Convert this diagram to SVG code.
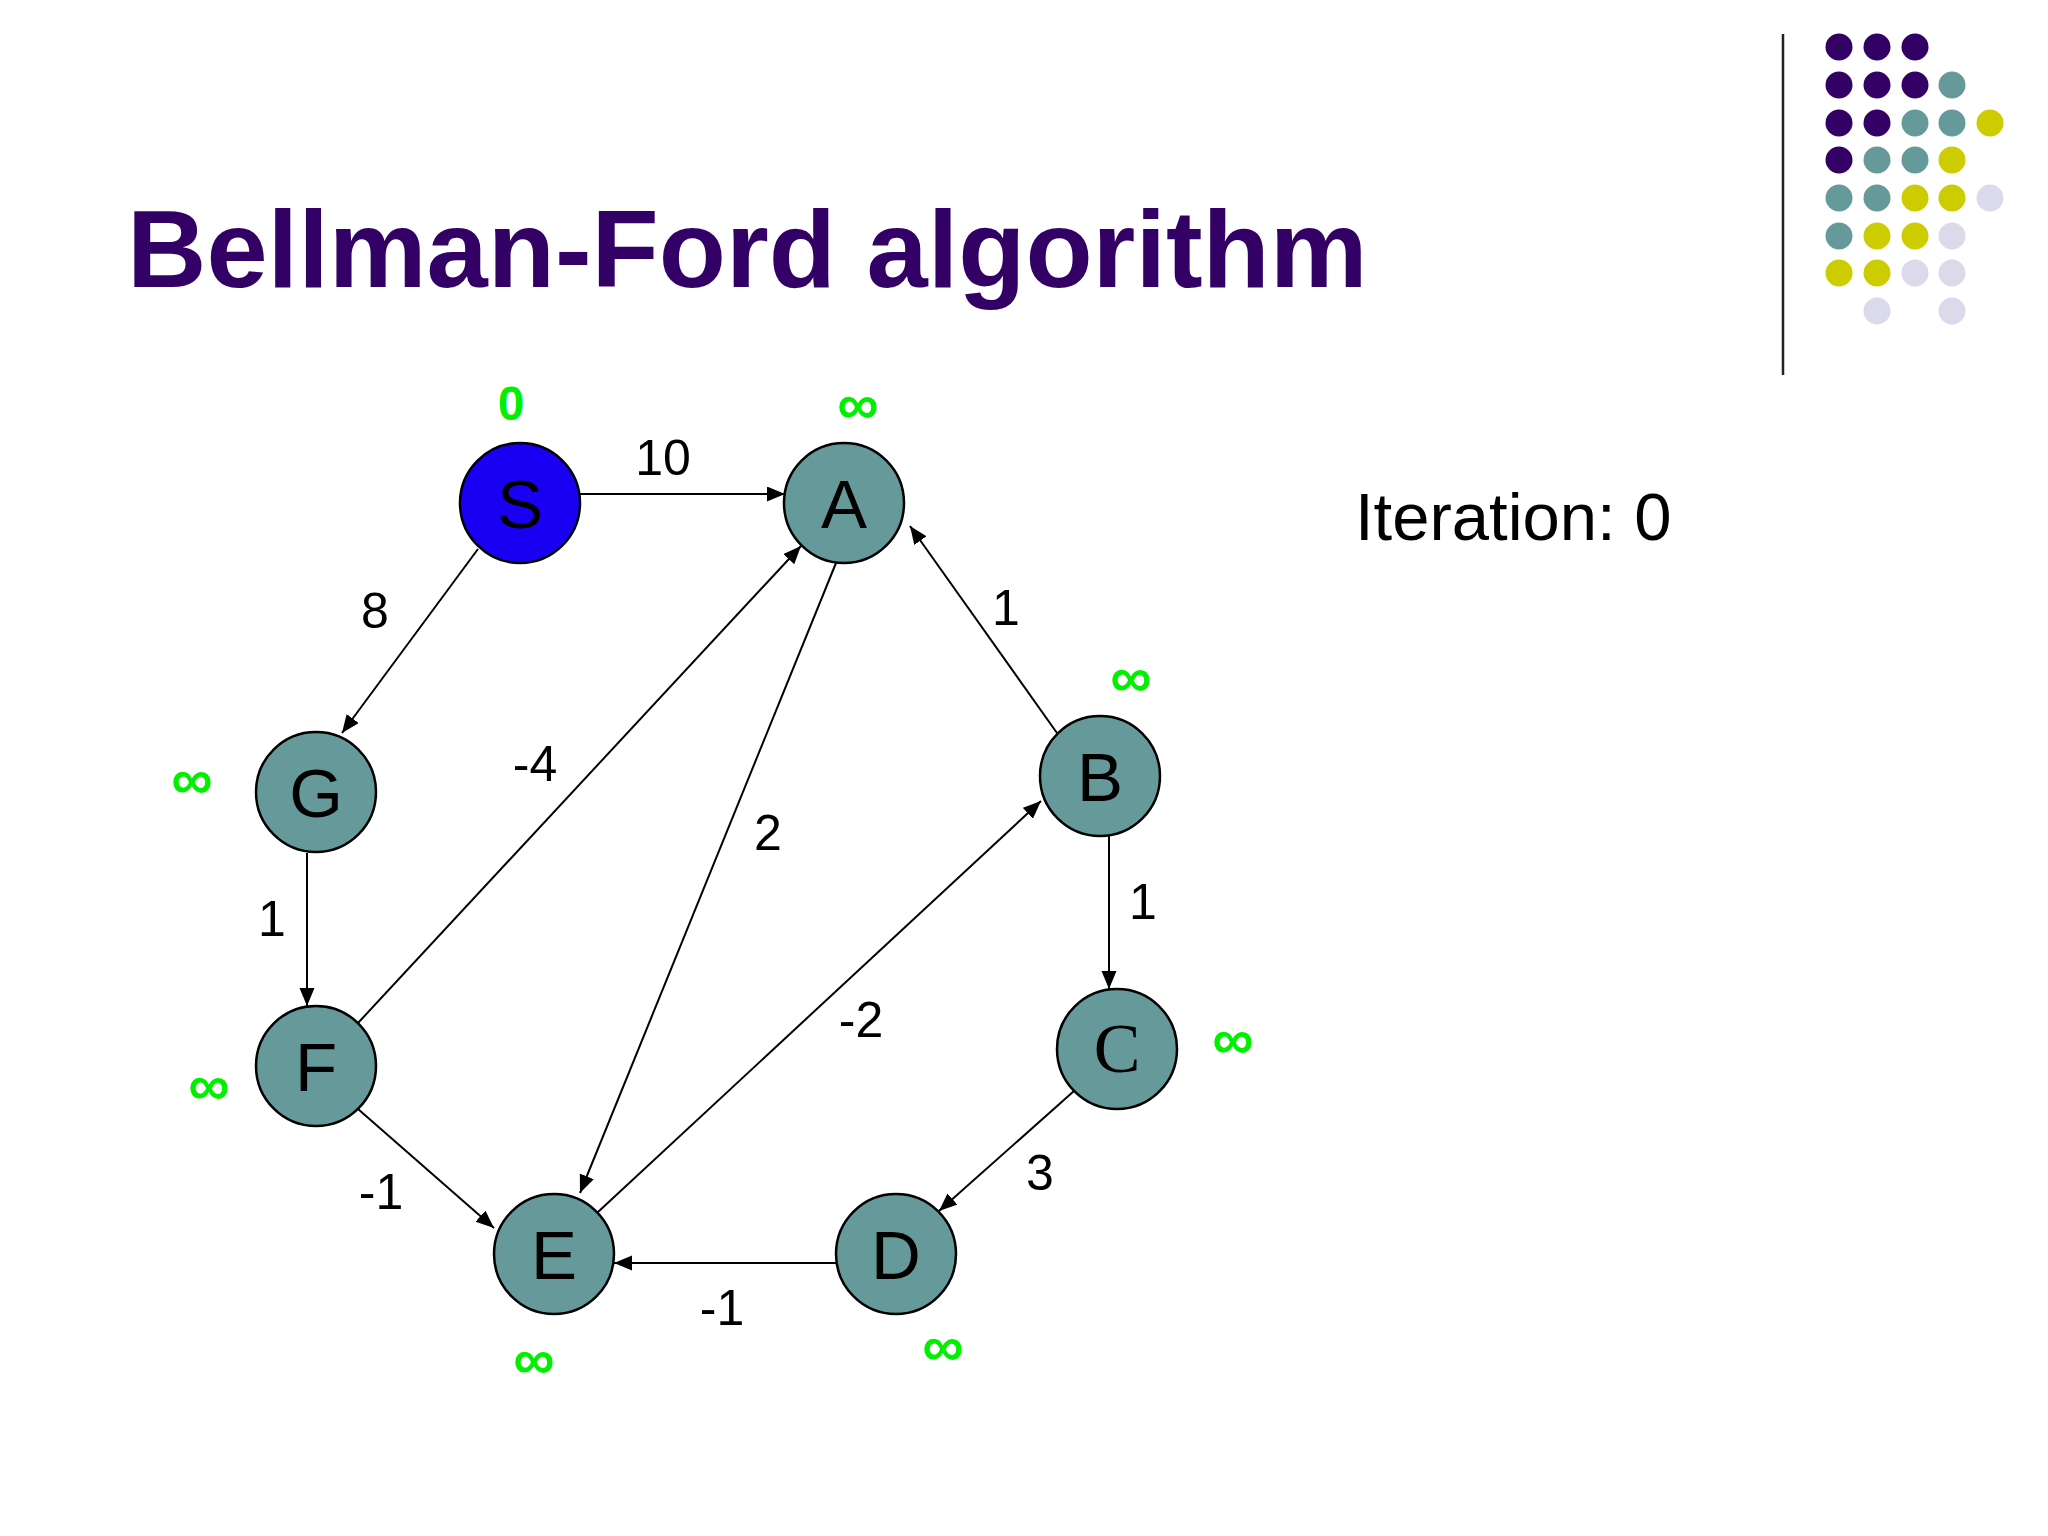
<svg xmlns="http://www.w3.org/2000/svg" width="2048" height="1536" viewBox="0 0 2048 1536">
<defs>
<style>
.title{font-family:"Liberation Sans",Arial,sans-serif;font-weight:bold;font-size:110px;fill:#330066}
.node{fill:#669999;stroke:#000;stroke-width:2.5}
.src{fill:#1A00F2;stroke:#000;stroke-width:2.5}
.nl{font-family:"Liberation Sans",Arial,sans-serif;font-size:69px;fill:#000;text-anchor:middle}
.nls{font-family:"Liberation Serif","Times New Roman",serif;font-size:70px;fill:#000;text-anchor:middle}
.el{font-family:"Liberation Sans",Arial,sans-serif;font-size:50px;fill:#000;text-anchor:middle}
.dist{font-family:"Liberation Sans",Arial,sans-serif;font-weight:bold;font-size:58px;fill:#00F000;text-anchor:middle}
.d0{font-family:"Liberation Sans",Arial,sans-serif;font-weight:bold;font-size:48px;fill:#00F000;text-anchor:middle}
.edge{stroke:#000;stroke-width:2;fill:none;marker-end:url(#arr)}
.it{font-family:"Liberation Sans",Arial,sans-serif;font-size:67px;fill:#000}
.p{fill:#330066}.t{fill:#669999}.y{fill:#CCCC00}.l{fill:#DADAEB}
</style>
<marker id="arr" markerUnits="userSpaceOnUse" markerWidth="20" markerHeight="16" refX="18" refY="7.5" orient="auto">
<path d="M0,0 L18,7.5 L0,15 z" fill="#000"/>
</marker>
</defs>
<rect width="2048" height="1536" fill="#fff"/>
<text class="title" x="127" y="287">Bellman-Ford algorithm</text>
<line x1="1783" y1="34" x2="1783" y2="375" stroke="#222" stroke-width="2.5"/>
<g id="dots">
<circle class="p" cx="1839" cy="47" r="13.5"/><circle class="p" cx="1877" cy="47" r="13.5"/><circle class="p" cx="1915" cy="47" r="13.5"/>
<circle class="p" cx="1839" cy="85" r="13.5"/><circle class="p" cx="1877" cy="85" r="13.5"/><circle class="p" cx="1915" cy="85" r="13.5"/><circle class="t" cx="1952" cy="85" r="13.5"/>
<circle class="p" cx="1839" cy="123" r="13.5"/><circle class="p" cx="1877" cy="123" r="13.5"/><circle class="t" cx="1915" cy="123" r="13.5"/><circle class="t" cx="1952" cy="123" r="13.5"/><circle class="y" cx="1990" cy="123" r="13.5"/>
<circle class="p" cx="1839" cy="160" r="13.5"/><circle class="t" cx="1877" cy="160" r="13.5"/><circle class="t" cx="1915" cy="160" r="13.5"/><circle class="y" cx="1952" cy="160" r="13.5"/>
<circle class="t" cx="1839" cy="198" r="13.5"/><circle class="t" cx="1877" cy="198" r="13.5"/><circle class="y" cx="1915" cy="198" r="13.5"/><circle class="y" cx="1952" cy="198" r="13.5"/><circle class="l" cx="1990" cy="198" r="13.5"/>
<circle class="t" cx="1839" cy="236" r="13.5"/><circle class="y" cx="1877" cy="236" r="13.5"/><circle class="y" cx="1915" cy="236" r="13.5"/><circle class="l" cx="1952" cy="236" r="13.5"/>
<circle class="y" cx="1839" cy="273" r="13.5"/><circle class="y" cx="1877" cy="273" r="13.5"/><circle class="l" cx="1915" cy="273" r="13.5"/><circle class="l" cx="1952" cy="273" r="13.5"/>
<circle class="l" cx="1877" cy="311" r="13.5"/><circle class="l" cx="1952" cy="311" r="13.5"/>
</g>
<g id="connectors">
<line class="edge" x1="580" y1="494" x2="785" y2="494"/>
<line class="edge" x1="478" y1="549" x2="342" y2="733"/>
<line class="edge" x1="307" y1="853" x2="307" y2="1006"/>
<line class="edge" x1="358" y1="1023" x2="801" y2="546"/>
<line class="edge" x1="836" y1="563" x2="580" y2="1193"/>
<line class="edge" x1="1057" y1="733" x2="910" y2="526"/>
<line class="edge" x1="598" y1="1212" x2="1041" y2="801"/>
<line class="edge" x1="1109" y1="836" x2="1109" y2="989"/>
<line class="edge" x1="1074" y1="1091" x2="939" y2="1211"/>
<line class="edge" x1="836" y1="1263" x2="614" y2="1263"/>
<line class="edge" x1="358" y1="1109" x2="494" y2="1228"/>
</g>
<g id="edge-labels">
<text class="el" x="663" y="475">10</text>
<text class="el" x="375" y="628">8</text>
<text class="el" x="535" y="781">-4</text>
<text class="el" x="768" y="850">2</text>
<text class="el" x="1006" y="625">1</text>
<text class="el" x="272" y="936">1</text>
<text class="el" x="1143" y="919">1</text>
<text class="el" x="861" y="1037">-2</text>
<text class="el" x="1040" y="1190">3</text>
<text class="el" x="381" y="1209">-1</text>
<text class="el" x="722" y="1325">-1</text>
</g>
<g id="node-S"><circle class="src" cx="520" cy="503" r="60"/><text class="nl" x="520" y="528">S</text><text class="d0" x="511" y="420">0</text></g>
<g id="node-A"><circle class="node" cx="844" cy="503" r="60"/><text class="nl" x="844" y="528">A</text><text class="dist" x="858" y="424">∞</text></g>
<g id="node-B"><circle class="node" cx="1100" cy="776" r="60"/><text class="nl" x="1100" y="801">B</text><text class="dist" x="1131" y="697">∞</text></g>
<g id="node-C"><circle class="node" cx="1117" cy="1049" r="60"/><text class="nls" x="1117" y="1072">C</text><text class="dist" x="1233" y="1059">∞</text></g>
<g id="node-D"><circle class="node" cx="896" cy="1254" r="60"/><text class="nl" x="896" y="1279">D</text><text class="dist" x="943" y="1366">∞</text></g>
<g id="node-E"><circle class="node" cx="554" cy="1254" r="60"/><text class="nl" x="554" y="1279">E</text><text class="dist" x="534" y="1379">∞</text></g>
<g id="node-F"><circle class="node" cx="316" cy="1066" r="60"/><text class="nl" x="316" y="1091">F</text><text class="dist" x="209" y="1105">∞</text></g>
<g id="node-G"><circle class="node" cx="316" cy="792" r="60"/><text class="nl" x="316" y="817">G</text><text class="dist" x="192" y="799">∞</text></g>
<text class="it" x="1355" y="540">Iteration: 0</text>
</svg>
